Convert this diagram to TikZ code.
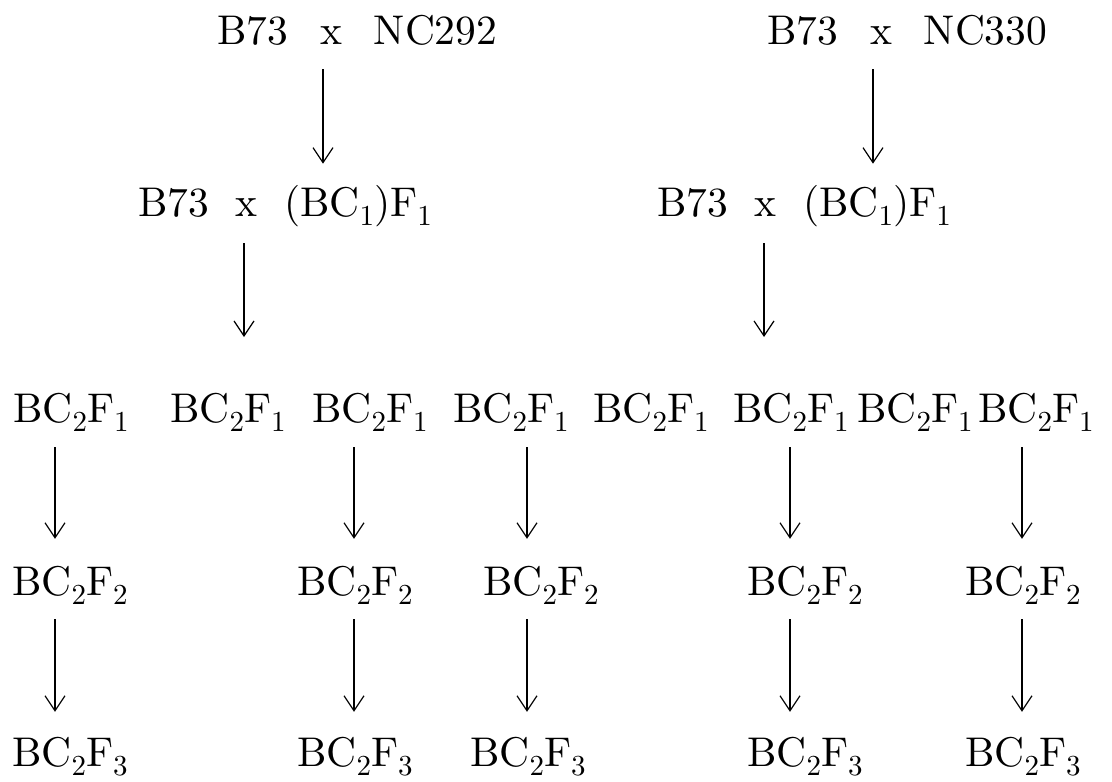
\documentclass[tikz,border=0pt]{standalone}
\usetikzlibrary{arrows.meta}
% Latin Modern at its 10pt design size, scaled up (wider than the 17pt cut)
\DeclareFontFamily{TU}{lmrten}{}
\DeclareFontShape{TU}{lmrten}{m}{n}{<->\UnicodeFontFile{lmroman10-regular}{\UnicodeFontTeXLigatures}}{}
\newcommand{\lowsub}[1]{\raisebox{-0.24em}{\fontsize{29}{30}\selectfont #1}}
\newcommand{\gpa}{\hspace{0.77em}}
\newcommand{\gpb}{\hspace{0.64em}}
\newcommand{\bcf}[1]{BC\lowsub{2}F\lowsub{#1}}
\tikzset{
  lbl/.style={inner sep=0pt, anchor=base west, font=\fontfamily{lmrten}\fontsize{41.5}{50}\selectfont},
  arr/.style={-{Straight Barb[length=15pt,width=20pt]}, line width=1.2pt}
}
\begin{document}
\begin{tikzpicture}[x=1pt,y=-1pt]
\useasboundingbox (0,0) rectangle (1112,782);
% parent crosses
\node[lbl] (p1) at (217,44) {B73\gpa x\gpa NC292};
\node[lbl] (p2) at (767,44) {B73\gpa x\gpa NC330};
% backcrosses
\node[lbl] (b1) at (138,216) {B73\gpb x\gpb (BC\lowsub{1})F\lowsub{1}};
\node[lbl] (b2) at (657,216) {B73\gpb x\gpb (BC\lowsub{1})F\lowsub{1}};
% BC2F1 families
\node[lbl] (f1) at (13,422)  {\bcf{1}};
\node[lbl] (f2) at (170,422) {\bcf{1}};
\node[lbl] (f3) at (312,422) {\bcf{1}};
\node[lbl] (f4) at (453,422) {\bcf{1}};
\node[lbl] (f5) at (593,422) {\bcf{1}};
\node[lbl] (f6) at (733,422) {\bcf{1}};
\node[lbl] (f7) at (857,422) {\bcf{1}};
\node[lbl] (f8) at (978,422) {\bcf{1}};
% BC2F2
\node[lbl] (g1) at (12,595)  {\bcf{2}};
\node[lbl] (g3) at (297,595) {\bcf{2}};
\node[lbl] (g4) at (483,595) {\bcf{2}};
\node[lbl] (g6) at (747,595) {\bcf{2}};
\node[lbl] (g8) at (965,595) {\bcf{2}};
% BC2F3
\node[lbl] (h1) at (12,766)  {\bcf{3}};
\node[lbl] (h3) at (297,766) {\bcf{3}};
\node[lbl] (h4) at (470,766) {\bcf{3}};
\node[lbl] (h6) at (747,766) {\bcf{3}};
\node[lbl] (h8) at (965,766) {\bcf{3}};
% arrow columns
\coordinate (xa) at (323,0);
\coordinate (xb) at (873,0);
\coordinate (xc) at (244,0);
\coordinate (xd) at (764,0);
\coordinate (x1) at (55,0);
\coordinate (x3) at (354,0);
\coordinate (x4) at (527,0);
\coordinate (x6) at (790,0);
\coordinate (x8) at (1022,0);
\coordinate (ec) at (244,337);
\coordinate (ed) at (764,337);
% arrows
\draw[arr, shorten <=24pt, shorten >=21pt] (p1.south -| xa) -- (b1.north -| xa);
\draw[arr, shorten <=24pt, shorten >=21pt] (p2.south -| xb) -- (b2.north -| xb);
\draw[arr, shorten <=16.6pt] (b1.south -| xc) -- (ec);
\draw[arr, shorten <=16.6pt] (b2.south -| xd) -- (ed);
\foreach \c in {1,3,4,6,8}{
  \draw[arr, shorten <=15pt, shorten >=26.7pt] (f\c.south -| x\c) -- (g\c.north -| x\c);
  \draw[arr, shorten <=14pt, shorten >=24.7pt] (g\c.south -| x\c) -- (h\c.north -| x\c);
}
\end{tikzpicture}
\end{document}
